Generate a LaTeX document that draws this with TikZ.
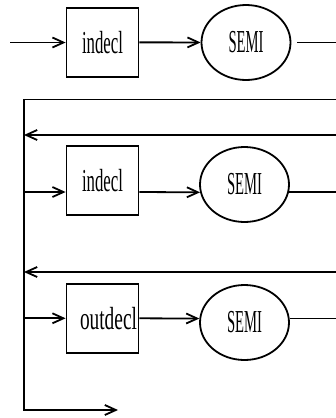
\documentclass[tikz,border=0pt]{standalone}
\usepackage{fontspec}
\setmainfont{Liberation Serif}
\usetikzlibrary{arrows.meta,shapes.geometric}
% condensed label: squeeze the text to a given width, keep its height
\newcommand\narrowlbl[2]{\resizebox{#1}{\height}{#2}}
\begin{document}
\begin{tikzpicture}[x=1pt,y=-1pt,
  line width=1.8pt,
  arr/.style={-{Straight Barb[length=11pt,width=10pt,line width=1.8pt]}},
  declbox/.style={draw,rectangle,minimum width=72pt,minimum height=69pt,
    inner sep=0pt,font=\fontsize{32}{32}\selectfont},
  semi/.style={draw,ellipse,minimum width=89pt,minimum height=75pt,
    inner sep=0pt,font=\fontsize{32}{32}\selectfont}]
\useasboundingbox (0,0) rectangle (336,418);

% right margin reference
\coordinate (rim) at (336,0);

% first declaration
\node[declbox] (d1) at (102.5,42.3) {\narrowlbl{41pt}{indecl}};
\node[semi]    (s1) at (246,42.5)   {\narrowlbl{35pt}{SEMI}};
\coordinate (in1) at (10,42.5);
\draw[arr] (in1) -- (in1 -| d1.west);
\draw[arr] (d1) -- (s1);
\draw[shorten <=6pt] (s1.east) -- (s1.east -| rim);

% loop: trunk on the left, exit at the bottom
\coordinate (loopR) at (336,99.5);
\coordinate (loopL) at (24,99.5);
\coordinate (exit)  at (118,410);
\draw[arr] (loopR) -- (loopL) -- (loopL |- exit) -- (exit);

% returns into the trunk
\coordinate (back2) at (336,135);
\draw[arr] (back2) -- (back2 -| loopL);
\coordinate (back3) at (336,272);
\draw[arr] (back3) -- (back3 -| loopL);

% second declaration
\node[declbox] (d2) at (102.5,180.5) {\narrowlbl{41pt}{indecl}};
\node[semi]    (s2) at (244.5,184.5) {\narrowlbl{35pt}{SEMI}};
\coordinate (br2) at (24,192);
\draw[arr] (br2) -- (br2 -| d2.west);
\draw[arr] (br2 -| d2.east) -- (s2.190);
\draw (s2.350) -- (s2.350 -| rim);

% output declaration
\node[declbox] (d3) at (102.5,318.5) {\hspace*{12pt}\narrowlbl{57pt}{outdecl}};
\node[semi]    (s3) at (244.5,322.5) {\narrowlbl{35pt}{SEMI}};
\coordinate (br3) at (24,318.3);
\draw[arr] (br3) -- (br3 -| d3.west);
\draw[arr] (br3 -| d3.east) -- (s3.175);
\draw (s3.5) -- (s3.5 -| rim);
\end{tikzpicture}
\end{document}
